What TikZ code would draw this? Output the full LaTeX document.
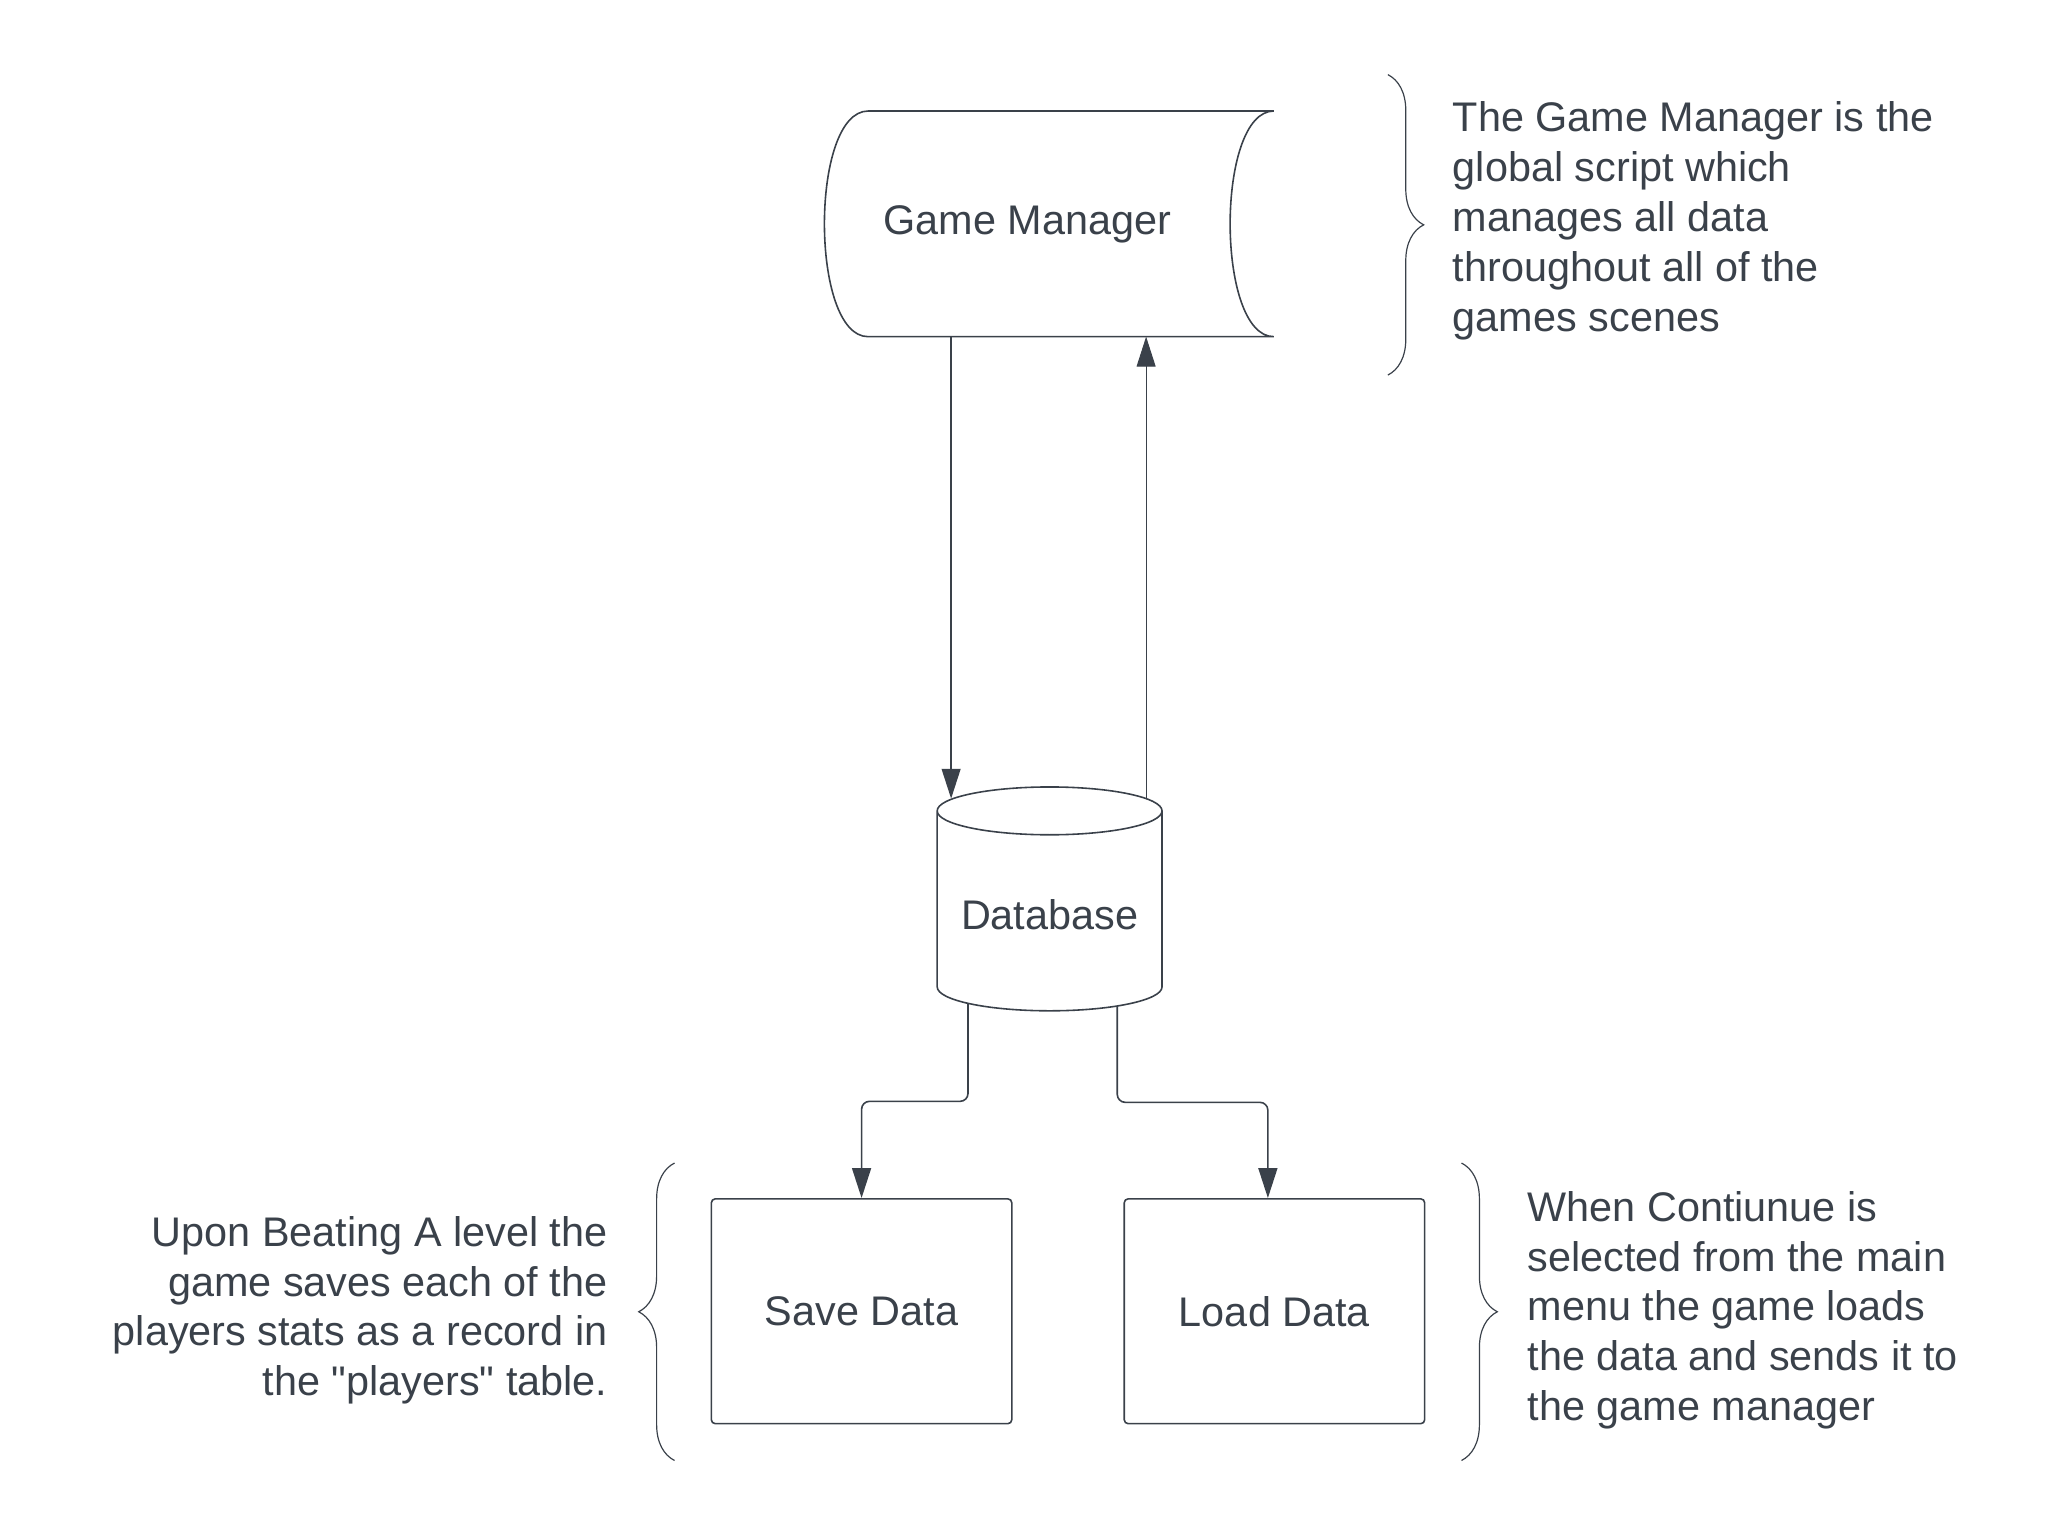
\documentclass[tikz,border=0pt]{standalone}
\usepackage{fontspec}
\setmainfont{Liberation Sans}[Ligatures=TeXOff]
\usetikzlibrary{arrows.meta,positioning,shapes.geometric,decorations.pathreplacing,backgrounds}
\definecolor{lucidgrey}{HTML}{3A414A}

\begin{document}
\begin{tikzpicture}[x=0.5pt, y=-0.5pt, >={Triangle[length=15pt,width=9.5pt]},
    every node/.style={text=lucidgrey, font=\fontsize{20.8pt}{25.1pt}\selectfont},
    line/.style={draw=lucidgrey, line width=0.8pt},
    thinline/.style={draw=lucidgrey, line width=0.5pt},
    gmbox/.style={minimum width=203.5pt, minimum height=113pt, inner sep=0pt},
    dbshape/.style={cylinder, shape border rotate=90, aspect=0.27, draw=lucidgrey, fill=white,
        line width=0.8pt, minimum width=113pt, minimum height=112.5pt, inner sep=0pt},
    storebox/.style={rectangle, rounded corners=2pt, draw=lucidgrey, line width=0.8pt,
        minimum width=151pt, minimum height=113pt, inner sep=0pt},
    note/.style={inner sep=0pt},
    notebrace/.style={draw=lucidgrey, line width=0.6pt, decorate, decoration={brace, amplitude=18pt}}]
    \useasboundingbox (0,0) rectangle (2073.6,1545.9);

    % Nodes {gm, db, save, load}
    \node [gmbox]                   (gm)    at (1032.5,225)  {Game Manager};
    \node [dbshape, anchor=shape center] (db) at (1055,903.5) {\raisebox{-9.4pt}[0pt][0pt]{Database}};
    \node [storebox]                (save)  at (866,1318)    {Save Data};
    \node [storebox, right=55.7pt of save] (load)            {Load Data};

    % Stored data outline of the game manager
    \draw [line] ([xshift=22pt]gm.north west) -- ([xshift=22pt]gm.north east)
        .. controls +(-29.3pt,0) and +(-29.3pt,0) .. ([xshift=22pt]gm.south east)
        -- ([xshift=22pt]gm.south west)
        .. controls +(-29.3pt,0) and +(-29.3pt,0) .. cycle;

    % Paths
    \coordinate (gmout) at ([xshift=-38.25pt]gm.south);
    \coordinate (gmin)  at ([xshift=59.75pt]gm.south);
    \coordinate (dbin)  at ([xshift=-49.5pt,yshift=50.4pt]db.shape center);
    \coordinate (dbout) at ([xshift=48.5pt,yshift=50.75pt]db.shape center);
    \draw [line, ->]     (gmout) -- (gmout |- dbin);
    \draw [thinline, ->] (gmin |- dbout) -- (gmin);
    \begin{scope}[on background layer]
        \draw [line, ->, rounded corners=4pt] ([xshift=-41pt]db.shape center) -- ++(0,203.5) -| (save.north);
        \draw [line, ->, rounded corners=4pt] ([xshift=34pt]db.shape center) -- ++(0,204.5) -| ([xshift=-3.3pt]load.north);
    \end{scope}

    % Notes
    \coordinate (gmbracetop)    at (1395,75);
    \coordinate (gmbracebot)    at (1395,377);
    \coordinate (savebracetop)  at (678,1169);
    \coordinate (savebracebot)  at (678,1468);
    \coordinate (loadbracetop)  at (1469,1169);
    \coordinate (loadbracebot)  at (1469,1468);
    \draw [notebrace] (gmbracetop) -- (gmbracebot);
    \draw [notebrace] (savebracebot) -- (savebracetop);
    \draw [notebrace] (loadbracetop) -- (loadbracebot);

    \node [note, anchor=west, align=left]  (gmnote)   at (1460,222)
        {The Game Manager is the\\global script which\\manages all data\\throughout all of the\\games scenes};
    \node [note, anchor=east, align=right] (savenote) at (611,1317)
        {Upon Beating A level the\\game saves each of the\\players stats as a record in\\the "players" table.};
    \node [note, anchor=west, align=left]  (loadnote) at (1535,1317)
        {When Contiunue is\\selected from the main\\menu the game loads\\the data and sends it to\\the game manager};
\end{tikzpicture}
\end{document}
